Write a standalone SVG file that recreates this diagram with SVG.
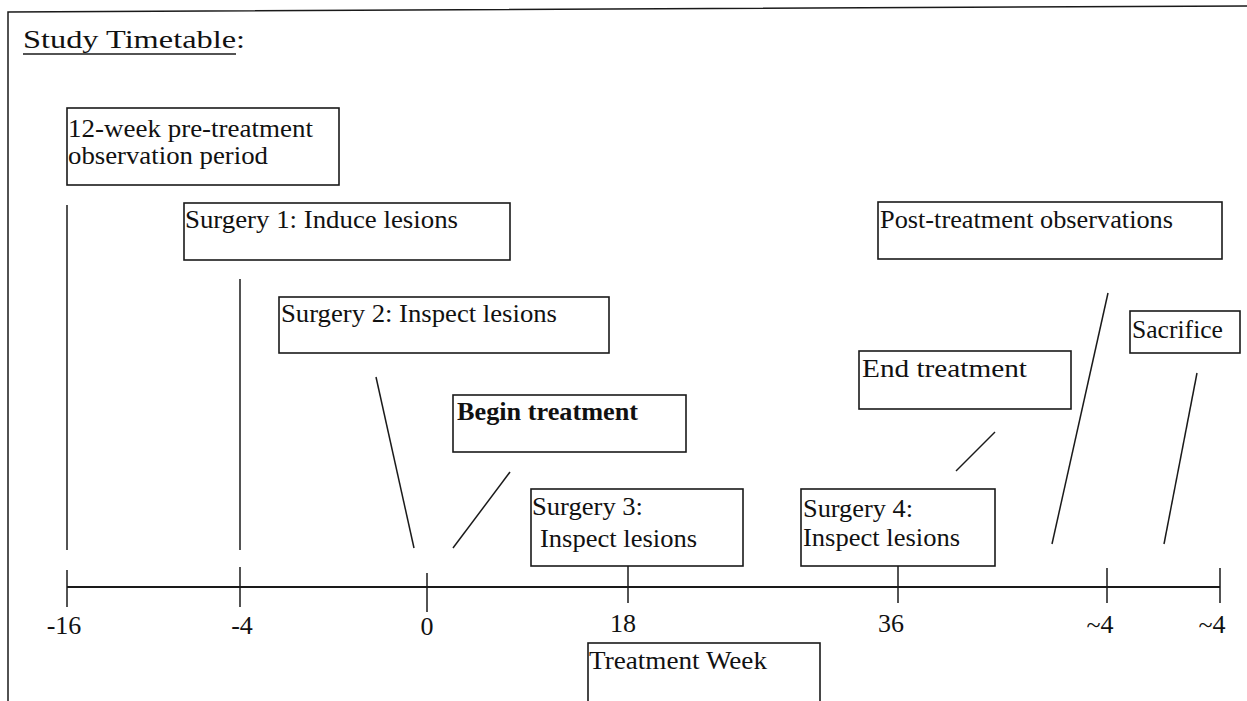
<svg xmlns="http://www.w3.org/2000/svg" width="1247" height="701" viewBox="0 0 1247 701">
<style>
  text { font-family: "Liberation Serif", "Times New Roman", serif; fill: #111; font-size: 25px; }
  .box { fill: none; stroke: #1a1a1a; stroke-width: 1.6; }
  .ln { stroke: #1a1a1a; stroke-width: 1.5; fill: none; }
  .axis { stroke: #1a1a1a; stroke-width: 2; fill: none; }
  .lbl { font-size: 26px; text-anchor: middle; }
</style>
<rect width="1247" height="701" fill="#fff"/>
<g id="frame">
  <polyline class="ln" points="8,701 8,12 1247,6"/>
</g>
<g id="title">
  <text x="23" y="48" font-size="29" textLength="222" lengthAdjust="spacingAndGlyphs">Study Timetable:</text>
  <line class="ln" x1="23" y1="54" x2="236" y2="54"/>
</g>
<g id="pretreatment">
  <rect class="box" x="67" y="108" width="272" height="77"/>
  <text x="68" y="137" textLength="245" lengthAdjust="spacingAndGlyphs">12-week pre-treatment</text>
  <text x="68" y="164" textLength="200" lengthAdjust="spacingAndGlyphs">observation period</text>
</g>
<g id="surgery1">
  <rect class="box" x="184" y="203" width="326" height="57"/>
  <text x="185" y="228" textLength="273" lengthAdjust="spacingAndGlyphs">Surgery 1: Induce lesions</text>
</g>
<g id="surgery2">
  <rect class="box" x="279" y="297" width="330" height="56"/>
  <text x="281" y="322" textLength="276" lengthAdjust="spacingAndGlyphs">Surgery 2: Inspect lesions</text>
</g>
<g id="begin-treatment">
  <rect class="box" x="453" y="395" width="233" height="57"/>
  <text x="457" y="420" font-weight="bold" textLength="181" lengthAdjust="spacingAndGlyphs">Begin treatment</text>
</g>
<g id="surgery3">
  <rect class="box" x="531" y="489" width="212" height="77"/>
  <text x="532" y="515" textLength="111" lengthAdjust="spacingAndGlyphs">Surgery 3:</text>
  <text x="540" y="547" textLength="157" lengthAdjust="spacingAndGlyphs">Inspect lesions</text>
</g>
<g id="surgery4">
  <rect class="box" x="801" y="489" width="194" height="77"/>
  <text x="803" y="517" textLength="110" lengthAdjust="spacingAndGlyphs">Surgery 4:</text>
  <text x="803" y="546" textLength="157" lengthAdjust="spacingAndGlyphs">Inspect lesions</text>
</g>
<g id="end-treatment">
  <rect class="box" x="859" y="351" width="212" height="58"/>
  <text x="862" y="377" textLength="165" lengthAdjust="spacingAndGlyphs">End treatment</text>
</g>
<g id="post-treatment">
  <rect class="box" x="878" y="202" width="344" height="57"/>
  <text x="880" y="228" textLength="293" lengthAdjust="spacingAndGlyphs">Post-treatment observations</text>
</g>
<g id="sacrifice">
  <rect class="box" x="1130" y="311" width="110" height="42"/>
  <text x="1132" y="338" textLength="91" lengthAdjust="spacingAndGlyphs">Sacrifice</text>
</g>
<g id="treatment-week">
  <rect class="box" x="588" y="643" width="232" height="60"/>
  <text x="589" y="669" textLength="178" lengthAdjust="spacingAndGlyphs">Treatment Week</text>
</g>
<g id="connectors">
  <line class="ln" x1="67" y1="205" x2="67" y2="550"/>
  <line class="ln" x1="240" y1="279" x2="240" y2="550"/>
  <line class="ln" x1="376" y1="377" x2="414" y2="548"/>
  <line class="ln" x1="510" y1="472" x2="453" y2="548"/>
  <line class="ln" x1="995" y1="432" x2="956" y2="471"/>
  <line class="ln" x1="1108" y1="293" x2="1052" y2="544"/>
  <line class="ln" x1="1197" y1="373" x2="1164" y2="544"/>
  <line class="ln" x1="628" y1="566" x2="628" y2="603"/>
  <line class="ln" x1="898" y1="566" x2="898" y2="603"/>
</g>
<g id="axis">
  <line class="axis" x1="67" y1="587" x2="1220" y2="587"/>
  <line class="ln" x1="67" y1="570" x2="67" y2="607"/>
  <line class="ln" x1="240" y1="567" x2="240" y2="607"/>
  <line class="ln" x1="427" y1="573" x2="427" y2="612"/>
  <line class="ln" x1="1107" y1="568" x2="1107" y2="603"/>
  <line class="ln" x1="1220" y1="568" x2="1220" y2="603"/>
  <text class="lbl" x="64" y="634">-16</text>
  <text class="lbl" x="242" y="634">-4</text>
  <text class="lbl" x="427" y="635">0</text>
  <text class="lbl" x="623" y="632">18</text>
  <text class="lbl" x="891" y="632">36</text>
  <text class="lbl" x="1100" y="633">~4</text>
  <text class="lbl" x="1212" y="633">~4</text>
</g>
</svg>
